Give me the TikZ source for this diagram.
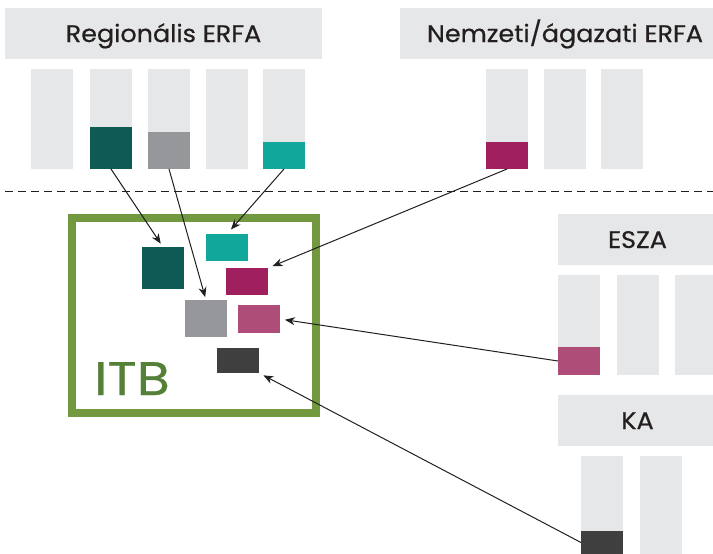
\documentclass[tikz,border=0pt]{standalone}
\usepackage{fontspec}
\setmainfont{Poppins}
\newfontfamily\hdrfont{Poppins}[FakeBold=0.5]
\usetikzlibrary{arrows.meta}
\definecolor{lg}{HTML}{E6E7E8}
\definecolor{dteal}{HTML}{0E5B55}
\definecolor{mgrey}{HTML}{96979A}
\definecolor{teal2}{HTML}{12A79B}
\definecolor{mag}{HTML}{A01F5F}
\definecolor{rose}{HTML}{AE4E78}
\definecolor{dgrey}{HTML}{3F3F3F}
\definecolor{frame}{HTML}{72993F}
\definecolor{itbc}{HTML}{548037}
\definecolor{txt}{HTML}{231F20}
\newcommand{\hdrtxt}[1]{\scalebox{1.06}[1]{#1}}
\begin{document}
\begin{tikzpicture}[x=1pt,y=-1pt,
  blk/.style={rectangle, draw=none, inner sep=0pt, outer sep=0pt, anchor=north west},
  bar/.style={blk, fill=lg, minimum width=42pt, minimum height=100pt},
  hdr/.style={blk, fill=lg, minimum height=51pt, text=txt, font=\hdrfont\fontsize{24}{24}\selectfont, text height=17pt, text depth=0pt},
  sq/.style={blk, minimum width=42pt},
  arr/.style={-{Stealth[length=10pt,width=8pt]}, line width=1pt, draw=txt}]
\useasboundingbox (0,0) rectangle (713,554);
% headers
\node[hdr, minimum width=317pt] (h1) at (5,8) {\hdrtxt{Regionális ERFA}};
\node[hdr, minimum width=330pt] (h2) at (400,8) {\hdrtxt{Nemzeti/ágazati ERFA}};
\node[hdr, minimum width=159pt] (h3) at (558,214) {\hdrtxt{ESZA}};
\node[hdr, minimum width=159pt] (h4) at (558,395) {\hdrtxt{KA}};
% regional bars
\node[bar] (r1) at (31,69) {};
\node[bar] (r2) at (90,69) {};
\node[bar] (r3) at (148,69) {};
\node[bar] (r4) at (206,69) {};
\node[bar] (r5) at (263,69) {};
\node[sq, fill=dteal, minimum height=42pt] (r2c) at (90,127) {};
\node[sq, fill=mgrey, minimum height=37pt] (r3c) at (148,132) {};
\node[sq, fill=teal2, minimum height=27pt] (r5c) at (263,142) {};
% national bars
\node[bar] (n1) at (486,69) {};
\node[bar] (n2) at (544,69) {};
\node[bar] (n3) at (601,69) {};
\node[sq, fill=mag, minimum height=27pt] (n1c) at (486,142) {};
% ESZA bars
\node[bar] (e1) at (558,275) {};
\node[bar] (e2) at (617,275) {};
\node[bar] (e3) at (675,275) {};
\node[sq, fill=rose, minimum height=28pt] (e1c) at (558,347) {};
% KA bars
\node[bar] (k1) at (581,456) {};
\node[bar] (k2) at (640,456) {};
\node[sq, fill=dgrey, minimum height=23pt] (k1c) at (581,531) {};
% dashed divider
\coordinate (dl) at (5,191);
\coordinate (dr) at (713,191);
\draw[txt, line width=0.9pt, dash pattern=on 8pt off 5pt] (dl) -- (dr);
% ITB frame
\node[blk, draw=frame, line width=8pt, minimum width=244pt, minimum height=195pt] (itbf) at (72,218) {};
\node[anchor=base west, inner sep=0pt, text=itbc, font=\hdrfont\fontsize{47}{47}\selectfont] (itb) at (94,395) {\scalebox{1.15}[1]{ITB}};
% squares in frame
\node[sq, fill=dteal, minimum height=42pt] (s1) at (142,247) {};
\node[sq, fill=teal2, minimum height=27pt] (s2) at (206,234) {};
\node[sq, fill=mag, minimum height=27pt] (s3) at (226,268) {};
\node[sq, fill=mgrey, minimum height=37pt] (s4) at (185,300) {};
\node[sq, fill=rose, minimum height=28pt] (s5) at (238,305) {};
\node[sq, fill=dgrey, minimum height=25pt] (s6) at (217,348) {};
% arrows
\draw[arr, shorten >=4pt] (r2c.south) -- (s1.north);
\draw[arr, shorten >=3pt] (r3c.south) -- (s4.north);
\draw[arr, shorten >=6pt] (r5c.south) -- (s2.north);
\draw[arr, shorten >=5pt] (n1c.south) -- (s3.north east);
\draw[arr, shorten >=5pt] (e1c.west) -- (s5.east);
\draw[arr, shorten >=5pt] (k1c.west) -- (s6.south east);
\end{tikzpicture}
\end{document}
